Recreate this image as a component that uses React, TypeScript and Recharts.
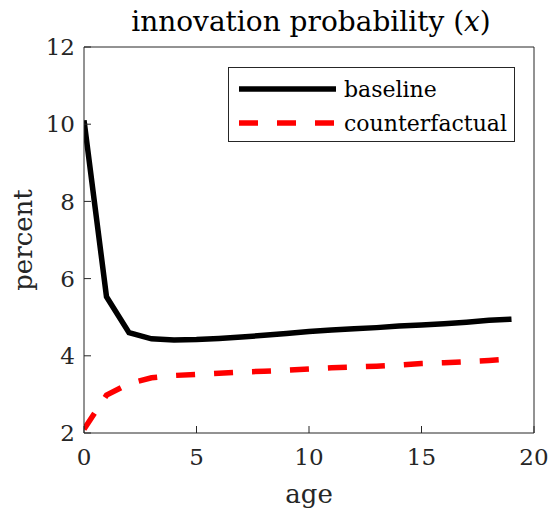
import React from "react";
import { LineChart, Line, XAxis, YAxis } from "recharts";

const ages = [0, 1, 2, 3, 4, 5, 6, 7, 8, 9, 10, 11, 12, 13, 14, 15, 16, 17, 18, 19];
const baseline = [10.1, 5.53, 4.6, 4.44, 4.41, 4.42, 4.45, 4.49, 4.53, 4.58, 4.63, 4.67, 4.7, 4.73, 4.77, 4.8, 4.83, 4.87, 4.92, 4.95];
const counterfactual = [2.1, 2.98, 3.28, 3.43, 3.49, 3.52, 3.55, 3.58, 3.6, 3.63, 3.66, 3.69, 3.71, 3.73, 3.76, 3.8, 3.82, 3.85, 3.88, 3.92];
const xTicks = [0, 5, 10, 15, 20];
const yTicks = [2, 4, 6, 8, 10, 12];

const FONT = "'DejaVu Serif', serif";
const INK = "#262626";

const data = ages.map((age, i) => ({
  age,
  baseline: baseline[i],
  counterfactual: counterfactual[i],
}));

const tickStyle = { fill: INK, fontSize: 23, style: { fontFamily: FONT } };

// MATLAB-style boxed legend, laid over the plot
function LegendBox() {
  return (
    <div
      style={{
        position: "absolute",
        left: 228,
        top: 67,
        width: 285,
        height: 73,
        border: `1px solid ${INK}`,
        background: "#fff",
      }}
    >
      <svg width={285} height={73} style={{ display: "block", fontFamily: FONT }}>
        <line x1={10} x2={107} y1={21} y2={21} stroke="#000" strokeWidth={5.5} />
        <text x={115} y={29} fontSize={22} fill="#000" style={{ fontFamily: FONT }}>
          baseline
        </text>
        <line x1={10} x2={107} y1={55} y2={55} stroke="#ff0000" strokeWidth={5.5} strokeDasharray="19 19" />
        <text x={115} y={63} fontSize={22} fill="#000" style={{ fontFamily: FONT }}>
          counterfactual
        </text>
      </svg>
    </div>
  );
}

export default function App() {
  return (
    <div style={{ position: "absolute", left: 0, top: 0, width: 551, height: 512, background: "#fff", fontFamily: FONT }}>
      <LineChart
        width={551}
        height={512}
        data={data}
        margin={{ top: 46, right: 16, left: 24, bottom: 29 }}
        style={{ fontFamily: FONT }}
      >
        <XAxis
          dataKey="age"
          type="number"
          domain={[0, 20]}
          ticks={xTicks}
          allowDataOverflow
          height={50}
          stroke={INK}
          tickSize={-7}
          tickMargin={23}
          tick={tickStyle}
          label={{
            content: () => (
              <text x={309} y={503} textAnchor="middle" fontSize={26} fill={INK} style={{ fontFamily: FONT }}>
                age
              </text>
            ),
          }}
        />
        <XAxis
          xAxisId="top"
          orientation="top"
          type="number"
          domain={[0, 20]}
          ticks={xTicks}
          allowDataOverflow
          height={1}
          stroke={INK}
          tickSize={-7}
          tick={false}
          label={{
            content: () => (
              <text x={311} y={31} textAnchor="middle" fontSize={28} fill="#000" style={{ fontFamily: FONT }}>
                innovation probability (<tspan fontStyle="italic">x</tspan>)
              </text>
            ),
          }}
        />
        <YAxis
          type="number"
          domain={[2, 12]}
          ticks={yTicks}
          allowDataOverflow
          width={60}
          stroke={INK}
          tickSize={-7}
          tickMargin={16}
          tick={tickStyle}
          label={{
            content: () => (
              <text
                x={32}
                y={240}
                textAnchor="middle"
                transform="rotate(-90 32 240)"
                fontSize={26}
                fill={INK}
                style={{ fontFamily: FONT }}
              >
                percent
              </text>
            ),
          }}
        />
        <YAxis
          yAxisId="right"
          orientation="right"
          type="number"
          domain={[2, 12]}
          ticks={yTicks}
          allowDataOverflow
          width={1}
          stroke={INK}
          tickSize={-7}
          tick={false}
        />
        <Line
          dataKey="baseline"
          stroke="#000"
          strokeWidth={5.5}
          dot={false}
          isAnimationActive={false}
        />
        <Line
          dataKey="counterfactual"
          stroke="#ff0000"
          strokeWidth={5.5}
          strokeDasharray="19 19"
          dot={false}
          isAnimationActive={false}
        />
      </LineChart>
      <LegendBox />
    </div>
  );
}
